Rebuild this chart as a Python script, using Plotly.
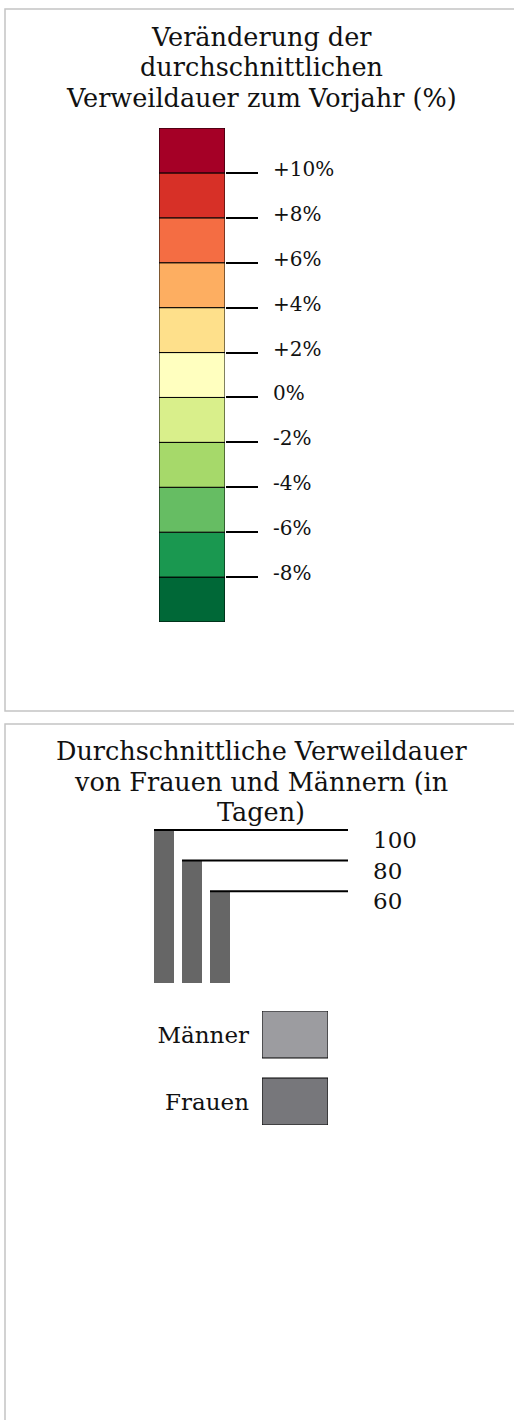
import plotly.graph_objects as go

W, H = 514, 1420
def px(x): return x / W
def py(y): return 1 - y / H

FONT = "DejaVu Serif"
TXT = "#111111"

# ---- Data: change scale (top panel) ----
change_lower_edges = [-10, -8, -6, -4, -2, 0, 2, 4, 6, 8, 10]
change_step = [2] * 11
change_colors = ["#006837", "#1a9850", "#66bd63", "#a6d96a", "#d9ef8b", "#ffffbf",
                 "#fee08b", "#fdae61", "#f46d43", "#d73027", "#a50026"]
change_tick_vals = [-8, -6, -4, -2, 0, 2, 4, 6, 8, 10]
change_tick_text = ["-8%", "-6%", "-4%", "-2%", "0%", "+2%", "+4%", "+6%", "+8%", "+10%"]
title_top_lines = ["Veränderung der", "durchschnittlichen", "Verweildauer zum Vorjahr (%)"]

# ---- Data: size scale (bottom panel) ----
size_vals = [100, 80, 60]
size_labels = ["100", "80", "60"]
bar_color = "#666666"
title_bottom_lines = ["Durchschnittliche Verweildauer", "von Frauen und Männern (in", "Tagen)"]

legend_names = ["Frauen", "Männer"]
legend_colors = ["#77777b", "#9c9ca0"]

fig = go.Figure()

# top color scale
fig.add_trace(go.Bar(x=[0] * len(change_step), y=change_step, base=change_lower_edges,
                     marker=dict(color=change_colors, line=dict(color="black", width=1)),
                     width=1, xaxis="x", yaxis="y", cliponaxis=False, hoverinfo="skip"))

# size bars
bw = 20 / 28
xmax2 = -0.5 + 198 / 28
fig.add_trace(go.Bar(x=list(range(len(size_vals))), y=size_vals, width=bw,
                     marker=dict(color=bar_color, line=dict(width=0)),
                     xaxis="x2", yaxis="y2", cliponaxis=False, hoverinfo="skip"))
for i, v in enumerate(size_vals):
    fig.add_trace(go.Scatter(x=[i - bw / 2, xmax2], y=[v, v], mode="lines",
                             line=dict(color="black", width=2), xaxis="x2", yaxis="y2",
                             cliponaxis=False, hoverinfo="skip"))

# legend swatches
fig.add_trace(go.Bar(y=legend_names, x=[1] * len(legend_names), orientation="h",
                     width=47 / 67,
                     marker=dict(color=legend_colors, line=dict(color="black", width=1)),
                     xaxis="x3", yaxis="y3", cliponaxis=False, hoverinfo="skip"))

fig.update_layout(
    width=W, height=H, margin=dict(l=0, r=0, t=0, b=0),
    paper_bgcolor="white", plot_bgcolor="rgba(0,0,0,0)", showlegend=False,
    font=dict(family=FONT, color=TXT),
    xaxis=dict(domain=[px(159), px(225)], range=[-0.5, 0.5], visible=False),
    yaxis=dict(domain=[py(622), py(128)], range=[-10, 12], anchor="x", side="right",
               tickvals=change_tick_vals, ticktext=change_tick_text,
               ticks="outside", ticklen=32, tickwidth=1.5, tickcolor="black",
               showline=False, showgrid=False, zeroline=False,
               tickfont=dict(size=20, family=FONT, color=TXT),
               ticklabelstandoff=11, ticklabelshift=-4),
    xaxis2=dict(domain=[px(150), px(348)], range=[-0.5, xmax2], visible=False),
    yaxis2=dict(domain=[py(983), py(800)], range=[0, 100 * 183 / 153], anchor="x2",
                side="right", tickvals=size_vals, ticktext=size_labels, ticks="",
                showline=False, showgrid=False, zeroline=False,
                tickfont=dict(size=23, family=FONT, color=TXT),
                ticklabelstandoff=24, ticklabelshift=10),
    xaxis3=dict(domain=[px(262), px(328)], range=[0, 1], visible=False),
    yaxis3=dict(domain=[py(1125), py(1011)], range=[-0.35, 1.35], anchor="x3",
                type="category", ticks="", showline=False, showgrid=False,
                zeroline=False, tickfont=dict(size=23, family=FONT, color=TXT),
                ticklabelstandoff=12),
)

# panel borders
for y0, y1 in [(9, 711), (724, 1440)]:
    fig.add_shape(type="rect", xref="paper", yref="paper", x0=px(5), x1=px(540),
                  y0=py(y1), y1=py(y0), line=dict(color="#c4c4c4", width=1.5),
                  fillcolor="rgba(0,0,0,0)", layer="below")

# titles, one annotation per line
for lines, base in [(title_top_lines, 44), (title_bottom_lines, 758)]:
    for k, line in enumerate(lines):
        fig.add_annotation(text=line, xref="paper", yref="paper", x=px(261),
                           y=py(base + 30.5 * k - 7), xanchor="center", yanchor="middle",
                           showarrow=False, font=dict(size=25.5, family=FONT, color=TXT))

fig.write_html("out.html", config={"displayModeBar": False},
               post_script="document.body.style.margin='0';")
